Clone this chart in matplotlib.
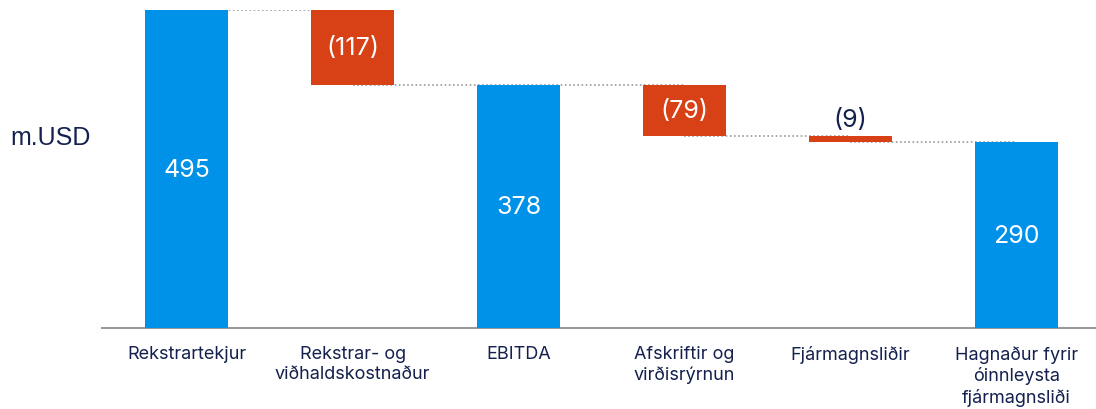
import matplotlib
matplotlib.use("Agg")
import matplotlib.pyplot as plt

categories = ["Rekstrartekjur", "Rekstrar- og\nviðhaldskostnaður", "EBITDA",
              "Afskriftir og\nvirðisrýrnun", "Fjármagnsliðir",
              "Hagnaður fyrir\nóinnleysta\nfjármagnsliði"]
values = [495, -117, 378, -79, -9, 290]
is_total = [True, False, True, False, False, True]
value_labels = ["495", "(117)", "378", "(79)", "(9)", "290"]

BLUE = "#0091E8"
RED = "#D84016"
NAVY = "#14214F"

plt.rcParams['font.family'] = ['Inter', 'DejaVu Sans']

fig = plt.figure(figsize=(10.96, 4.09), dpi=100)
ax = fig.add_axes([102/1096, 81/409, 994/1096, 318/409])

bottoms, tops = [], []
running = 0
for v, t in zip(values, is_total):
    if t:
        b, top = 0, v
        running = v
    else:
        b, top = running + v, running
        running = running + v
    bottoms.append(b)
    tops.append(top)

x = list(range(len(values)))
width = 0.5
for i in x:
    color = BLUE if is_total[i] else RED
    ax.bar(i, tops[i] - bottoms[i], bottom=bottoms[i], width=width,
           color=color, zorder=3)

# connectors
for i in range(len(values) - 1):
    lvl = tops[i] if is_total[i] else bottoms[i]
    ax.plot([i, i + 1], [lvl, lvl], linestyle=(0, (1, 1.5)), color="#9a9a9a",
            linewidth=1.2, zorder=2)

# labels
for i in x:
    h = tops[i] - bottoms[i]
    if h > 30:
        ax.text(i, (tops[i] + bottoms[i]) / 2 - 2, value_labels[i], ha="center",
                va="center", color="white", fontsize=18, zorder=4)
    else:
        ax.text(i, tops[i] + 6, value_labels[i], ha="center", va="bottom",
                color=NAVY, fontsize=18, zorder=4)

ax.set_xlim(-0.51, 5.48)
ax.set_ylim(0, 495)
for s in ["top", "right", "left"]:
    ax.spines[s].set_visible(False)
ax.spines["bottom"].set_color("#9a9a9a")
ax.spines["bottom"].set_linewidth(1.5)
ax.set_yticks([])
ax.set_xticks(x)
ax.set_xticklabels(categories, fontsize=13, color=NAVY, linespacing=1.25,
                   va="top")
ax.tick_params(axis="x", length=0, pad=13)

fig.text(10/1096, 1 - 138/409, "m.USD", fontsize=18, color=NAVY,
         ha="left", va="center", family=["Liberation Sans", "DejaVu Sans"])

fig.savefig("out.png", dpi=100)
